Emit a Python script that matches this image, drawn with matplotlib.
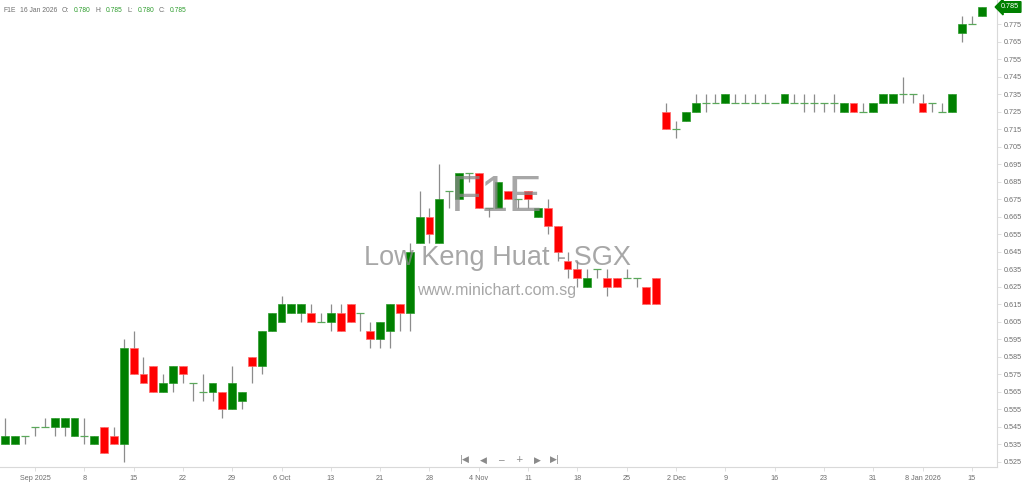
import numpy as np
import matplotlib
matplotlib.use("Agg")
from matplotlib import pyplot as plt
from matplotlib import transforms

plt.rcParams["font.family"] = ["Liberation Sans", "DejaVu Sans"]

# daily OHLC, 27 Aug 2025 .. 16 Jan 2026 (trading days)
opens = [0.535, 0.535, 0.540, 0.545, 0.545, 0.545, 0.545, 0.540, 0.540, 0.535,
         0.545, 0.540, 0.535, 0.590, 0.575, 0.580, 0.565, 0.570, 0.580, 0.570,
         0.565, 0.565, 0.565, 0.555, 0.560, 0.585, 0.580, 0.600, 0.605, 0.610,
         0.610, 0.610, 0.605, 0.605, 0.610, 0.615, 0.610, 0.600, 0.595, 0.600,
         0.615, 0.610, 0.650, 0.665, 0.650, 0.680, 0.675, 0.690, 0.690, 0.670,
         0.670, 0.680, 0.675, 0.680, 0.665, 0.670, 0.660, 0.640, 0.635, 0.625,
         0.635, 0.630, 0.630, 0.630, 0.630, 0.625, 0.630, 0.725, 0.715, 0.720,
         0.725, 0.730, 0.730, 0.730, 0.730, 0.730, 0.730, 0.730, 0.730, 0.730,
         0.730, 0.730, 0.730, 0.730, 0.730, 0.725, 0.730, 0.725, 0.725, 0.730,
         0.730, 0.735, 0.735, 0.730, 0.730, 0.725, 0.725, 0.770, 0.775, 0.780]
highs = [0.550, 0.540, 0.540, 0.545, 0.550, 0.550, 0.550, 0.550, 0.550, 0.540,
         0.545, 0.545, 0.595, 0.600, 0.585, 0.580, 0.575, 0.580, 0.580, 0.570,
         0.575, 0.570, 0.565, 0.580, 0.565, 0.585, 0.600, 0.610, 0.620, 0.615,
         0.615, 0.615, 0.610, 0.615, 0.615, 0.615, 0.610, 0.605, 0.605, 0.615,
         0.615, 0.650, 0.680, 0.670, 0.695, 0.680, 0.690, 0.690, 0.690, 0.670,
         0.685, 0.680, 0.675, 0.680, 0.670, 0.675, 0.660, 0.645, 0.640, 0.635,
         0.635, 0.635, 0.630, 0.635, 0.630, 0.625, 0.630, 0.730, 0.720, 0.725,
         0.735, 0.735, 0.735, 0.735, 0.735, 0.735, 0.735, 0.735, 0.730, 0.735,
         0.735, 0.735, 0.735, 0.730, 0.735, 0.730, 0.730, 0.730, 0.730, 0.735,
         0.735, 0.745, 0.735, 0.735, 0.730, 0.730, 0.735, 0.780, 0.780, 0.785]
lows = [0.535, 0.535, 0.535, 0.540, 0.545, 0.540, 0.540, 0.540, 0.535, 0.535,
        0.530, 0.535, 0.525, 0.575, 0.570, 0.565, 0.565, 0.565, 0.570, 0.560,
        0.560, 0.560, 0.550, 0.555, 0.555, 0.570, 0.575, 0.600, 0.605, 0.610,
        0.605, 0.605, 0.605, 0.600, 0.600, 0.605, 0.600, 0.590, 0.590, 0.590,
        0.600, 0.600, 0.650, 0.650, 0.650, 0.670, 0.675, 0.685, 0.670, 0.665,
        0.670, 0.675, 0.670, 0.670, 0.665, 0.655, 0.640, 0.630, 0.625, 0.625,
        0.630, 0.620, 0.625, 0.630, 0.625, 0.615, 0.615, 0.715, 0.710, 0.720,
        0.725, 0.725, 0.730, 0.730, 0.730, 0.730, 0.730, 0.730, 0.730, 0.730,
        0.730, 0.725, 0.725, 0.725, 0.725, 0.725, 0.725, 0.725, 0.725, 0.730,
        0.730, 0.730, 0.730, 0.725, 0.725, 0.725, 0.725, 0.765, 0.775, 0.780]
closes = [0.540, 0.540, 0.540, 0.545, 0.545, 0.550, 0.550, 0.550, 0.540, 0.540,
          0.530, 0.535, 0.590, 0.575, 0.570, 0.565, 0.570, 0.580, 0.575, 0.570,
          0.565, 0.570, 0.555, 0.570, 0.565, 0.580, 0.600, 0.610, 0.615, 0.615,
          0.615, 0.605, 0.605, 0.610, 0.600, 0.605, 0.610, 0.595, 0.605, 0.615,
          0.610, 0.645, 0.665, 0.655, 0.675, 0.680, 0.690, 0.690, 0.670, 0.670,
          0.685, 0.675, 0.675, 0.675, 0.670, 0.660, 0.645, 0.635, 0.630, 0.630,
          0.635, 0.625, 0.625, 0.630, 0.630, 0.615, 0.615, 0.715, 0.715, 0.725,
          0.730, 0.730, 0.730, 0.735, 0.730, 0.730, 0.730, 0.730, 0.730, 0.735,
          0.730, 0.730, 0.730, 0.730, 0.730, 0.730, 0.725, 0.725, 0.730, 0.735,
          0.735, 0.735, 0.735, 0.725, 0.730, 0.725, 0.735, 0.775, 0.775, 0.785]

tick_labels = ["Sep 2025", "8", "15", "22", "29", "6 Oct", "13", "21", "28",
               "4 Nov", "11", "18", "25", "2 Dec", "9", "16", "23", "31",
               "8 Jan 2026", "15"]
first_tick = 3  # Sep 1 is the 4th bar shown
y_ticks = np.round(np.arange(0.525, 0.7751, 0.01), 3)

symbol = "F1E"
name = "Low Keng Huat - SGX"
last_date = "16 Jan 2026"

GREEN = "#008000"
RED = "#ff0000"
WICK = "#8c8c8c"
AXIS = "#d9d9d9"
TXT = "#6e6e6e"

o = np.array(opens)
h = np.array(highs)
l = np.array(lows)
c = np.array(closes)
x = np.arange(len(o))

fig = plt.figure(figsize=(10.24, 4.84), dpi=100)
ax = fig.add_axes([0.0, 17 / 484, 997 / 1024, 467 / 484])

ax.vlines(x, l, h, color=WICK, lw=0.9, zorder=2)
up = c > o
down = c < o
flat = c == o
ax.bar(x[up], (c - o)[up], bottom=o[up], width=0.8, color=GREEN,
       edgecolor="#2a9a2a", lw=0.5, zorder=3)
ax.bar(x[down], (o - c)[down], bottom=c[down], width=0.8, color=RED,
       edgecolor="#ff6a6a", lw=0.5, zorder=3)
ax.hlines(c[flat], x[flat] - 0.4, x[flat] + 0.4, color="#5aa85a", lw=0.9, zorder=3)

ax.set_xlim(-0.55, 100.55)
ax.set_ylim(0.5221, 0.789)

ax.set_xticks(np.arange(len(tick_labels)) * 5 + first_tick)
ax.set_xticklabels(tick_labels)
ax.yaxis.tick_right()
ax.set_yticks(y_ticks)
ax.set_yticklabels([f"{v:.3f}" for v in y_ticks])
ax.tick_params(axis="both", colors=AXIS, labelcolor=TXT, labelsize=5.2,
               length=3, width=0.6, pad=2)
ax.tick_params(axis="x", pad=3)

for side in ["top", "left"]:
    ax.spines[side].set_visible(False)
for side in ["right", "bottom"]:
    ax.spines[side].set_color(AXIS)
    ax.spines[side].set_linewidth(0.8)

# last price tag
trans = transforms.blended_transform_factory(ax.transAxes, ax.transData)
ax.text(1.004, c[-1], f"{c[-1]:.3f}", transform=trans, color="white",
        fontsize=5.2, va="center", ha="left", zorder=6, clip_on=False,
        bbox=dict(boxstyle="larrow,pad=0.25", fc=GREEN, ec=GREEN))

# watermark
wm = dict(color="#8a8a8a", alpha=0.75, ha="center", va="center",
          transform=fig.transFigure, zorder=5)
fig.text(497 / 1024, 1 - 198 / 484, symbol, fontsize=36, **wm)
fig.text(497 / 1024, 1 - 258 / 484, name, fontsize=19.5, **wm)
fig.text(497 / 1024, 1 - 290 / 484, "www.minichart.com.sg", fontsize=11.5, **wm)

# navigation glyphs
nav = ["|◀", "◀", "−", "+", "▶", "▶|"]
for k, g in enumerate(nav):
    fig.text((465 + k * 18) / 1024, 1 - 460 / 484, g, fontsize=6.5,
             color="#8a8a8a", ha="center", va="center",
             family=["DejaVu Sans"])

# header line
hdr_y = 1 - 10.5 / 484
VAL = "#2f9e2f"
parts = [(3, symbol, TXT), (20, last_date, TXT),
         (62, "O:", TXT), (74, f"{o[-1]:.3f}", VAL),
         (95, "H:", TXT), (106, f"{h[-1]:.3f}", VAL),
         (128, "L:", TXT), (138, f"{l[-1]:.3f}", VAL),
         (159, "C:", TXT), (170, f"{c[-1]:.3f}", VAL)]
for px, s, col in parts:
    fig.text(px / 1024, hdr_y, s, fontsize=4.9, color=col, ha="left", va="center")

fig.savefig("out.png", dpi=100)
